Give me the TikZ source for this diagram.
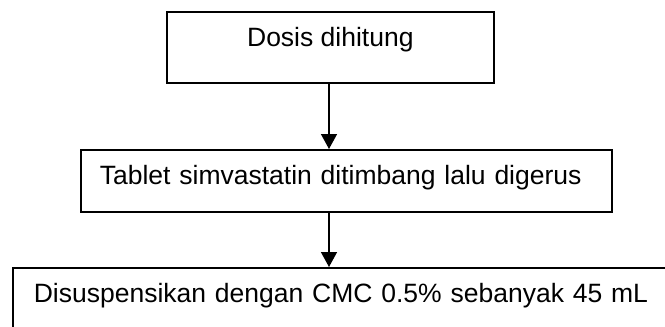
\documentclass[tikz,border=0pt]{standalone}
\usepackage{fontspec}
\setmainfont{Liberation Sans}
\usetikzlibrary{arrows.meta}
\begin{document}
\begin{tikzpicture}[x=1pt,y=-1pt,
  boxstyle/.style={draw, line width=1.7pt, inner ysep=0pt, anchor=north west,
    font=\fontsize{26.5}{30}\selectfont},
  arr/.style={line width=1.5pt, -{Triangle[width=16pt,length=15pt]}}]
\clip (0,0) rectangle (665,327);
\fill[white] (0,0) rectangle (665,327);
\node[boxstyle, minimum width=327pt, text height=35pt, text depth=36pt, inner xsep=0pt]
  (b1) at (166,11) {Dosis dihitung};
\node[boxstyle, text width=493pt, align=left, text height=35pt, text depth=27pt, inner xsep=19pt]
  (b2) at (80,149) {Tablet simvastatin ditimbang lalu digerus};
\node[boxstyle, text width=640pt, align=left, text height=35pt, text depth=60pt, inner xsep=21pt]
  (b3) at (12,267) {Disuspensikan dengan CMC 0.5\% sebanyak 45 mL};
\coordinate (ax) at (329,0);
\draw[arr] (b1.south -| ax) -- (b2.north -| ax);
\draw[arr] (b2.south -| ax) -- (b3.north -| ax);
\end{tikzpicture}
\end{document}
